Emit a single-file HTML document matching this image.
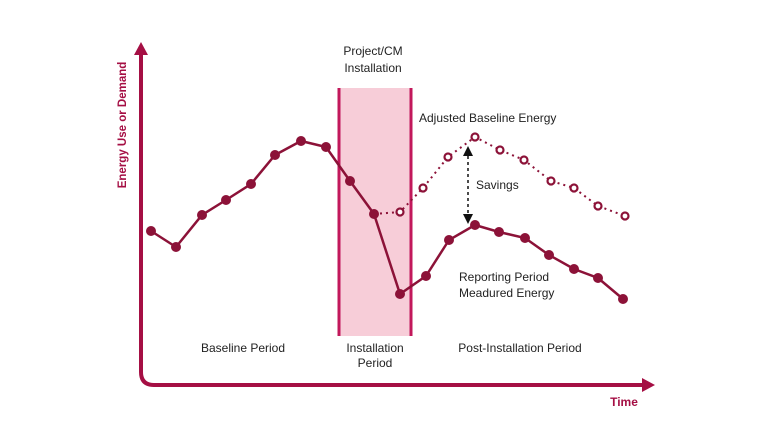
<!DOCTYPE html><html><head><style>body{margin:0;background:#fff}svg{display:block}text{font-family:"Liberation Sans",sans-serif;fill:#222;font-size:12px}</style></head><body>
<svg width="768" height="432" viewBox="0 0 768 432">
<rect x="339" y="88" width="72" height="248" fill="#f7cdd8"/>
<line x1="339" y1="88" x2="339" y2="336" stroke="#c2185b" stroke-width="3"/>
<line x1="411" y1="88" x2="411" y2="336" stroke="#c2185b" stroke-width="3"/>
<path d="M141 52 V372 Q141 385 154 385 H642" fill="none" stroke="#a50f44" stroke-width="4"/>
<polygon points="141,42 134,55 148,55" fill="#a50f44"/>
<polygon points="655,385 642,378 642,392" fill="#a50f44"/>
<polyline points="374,214 400,212 423,188 448,157 475,137 500,150 524,160 551,181 574,188 598,206 625,216" fill="none" stroke="#8c1238" stroke-width="2" stroke-dasharray="2,4"/>
<polyline points="151,231 176,247 202,215 226,200 251,184 275,155 301,141 326,147 350,181 374,214 400,294 426,276 449,240 475,225 499,232 525,238 549,255 574,269 598,278 623,299" fill="none" stroke="#8c1238" stroke-width="2.5"/>
<g fill="#8c1238">
<circle cx="151" cy="231" r="5"/><circle cx="176" cy="247" r="5"/><circle cx="202" cy="215" r="5"/><circle cx="226" cy="200" r="5"/><circle cx="251" cy="184" r="5"/><circle cx="275" cy="155" r="5"/><circle cx="301" cy="141" r="5"/><circle cx="326" cy="147" r="5"/><circle cx="350" cy="181" r="5"/><circle cx="374" cy="214" r="5"/><circle cx="400" cy="294" r="5"/><circle cx="426" cy="276" r="5"/><circle cx="449" cy="240" r="5"/><circle cx="475" cy="225" r="5"/><circle cx="499" cy="232" r="5"/><circle cx="525" cy="238" r="5"/><circle cx="549" cy="255" r="5"/><circle cx="574" cy="269" r="5"/><circle cx="598" cy="278" r="5"/><circle cx="623" cy="299" r="5"/>
</g>
<g fill="#fff" stroke="#8c1238" stroke-width="2.2">
<circle cx="400" cy="212" r="3.5"/><circle cx="423" cy="188" r="3.5"/><circle cx="448" cy="157" r="3.5"/><circle cx="475" cy="137" r="3.5"/><circle cx="500" cy="150" r="3.5"/><circle cx="524" cy="160" r="3.5"/><circle cx="551" cy="181" r="3.5"/><circle cx="574" cy="188" r="3.5"/><circle cx="598" cy="206" r="3.5"/><circle cx="625" cy="216" r="3.5"/>
</g>
<line x1="468" y1="156" x2="468" y2="215" stroke="#111" stroke-width="1.5" stroke-dasharray="3,3"/>
<polygon points="468,146 463,156 473,156" fill="#111"/>
<polygon points="468,224 463,214 473,214" fill="#111"/>
<text x="373" y="55" text-anchor="middle">Project/CM</text>
<text x="373" y="72" text-anchor="middle">Installation</text>
<text x="419" y="122">Adjusted Baseline Energy</text>
<text x="476" y="189">Savings</text>
<text x="459" y="281">Reporting Period</text>
<text x="459" y="297">Meadured Energy</text>
<text x="243" y="352" text-anchor="middle">Baseline Period</text>
<text x="375" y="352" text-anchor="middle">Installation</text>
<text x="375" y="367" text-anchor="middle">Period</text>
<text x="520" y="352" text-anchor="middle">Post-Installation Period</text>
<text x="624" y="406" text-anchor="middle" style="fill:#a50f44;font-weight:bold">Time</text>
<text transform="translate(126,125) rotate(-90)" text-anchor="middle" style="fill:#a50f44;font-weight:bold;font-size:11.5px">Energy Use or Demand</text>
</svg></body></html>
